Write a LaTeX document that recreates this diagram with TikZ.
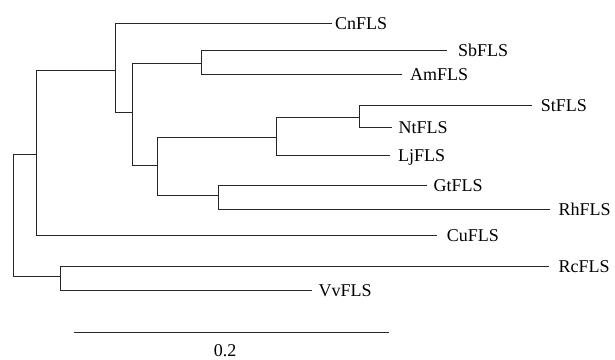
\documentclass[tikz,border=0pt]{standalone}
\usepackage{fontspec}
\setmainfont{Liberation Serif}
\begin{document}
\begin{tikzpicture}[x=1pt,y=-1pt,
  branch/.style={draw=black!85,line width=0.9pt},
  leaf/.style={anchor=base west,inner sep=0pt,font=\fontsize{18}{20}\selectfont},
  scalelbl/.style={anchor=base,inner sep=0pt,font=\fontsize{18}{20}\selectfont}]
\useasboundingbox (0,0) rectangle (615,359);
% internal nodes
\coordinate (r) at (13.3,215.5);
\coordinate (A) at (36.7,154.3);
\coordinate (B) at (115.7,70);
\coordinate (C) at (132.7,112.7);
\coordinate (D) at (201.7,63.3);
\coordinate (E) at (157.3,165);
\coordinate (F) at (276.7,137.7);
\coordinate (H) at (359.3,117.7);
\coordinate (G) at (218.7,195);
\coordinate (I) at (60.7,276.7);
% branch tips
\coordinate (tCn) at (331.7,23.3);
\coordinate (tSb) at (446.7,50.7);
\coordinate (tAm) at (401.7,74);
\coordinate (tSt) at (531.7,105);
\coordinate (tNt) at (391.7,127.7);
\coordinate (tLj) at (390,155);
\coordinate (tGt) at (426.7,185.7);
\coordinate (tRh) at (550,209);
\coordinate (tCu) at (436.7,235.7);
\coordinate (tRc) at (549.3,266.7);
\coordinate (tVv) at (311.7,290);
% labels
\node[leaf] (Cn) at (335,29.3) {CnFLS};
\node[leaf] (Sb) at (458,56.7) {SbFLS};
\node[leaf] (Am) at (410,80) {AmFLS};
\node[leaf] (St) at (540.7,111) {StFLS};
\node[leaf] (Nt) at (398.3,133.7) {NtFLS};
\node[leaf] (Lj) at (398,161) {LjFLS};
\node[leaf] (Gt) at (433.3,191.7) {GtFLS};
\node[leaf] (Rh) at (558.3,215) {RhFLS};
\node[leaf] (Cu) at (446.7,241.7) {CuFLS};
\node[leaf] (Rc) at (558.3,272.7) {RcFLS};
\node[leaf] (Vv) at (318.3,296) {VvFLS};
% tree
\draw[branch] (r) |- (A);
\draw[branch] (r) |- (I);
\draw[branch] (A) |- (B);
\draw[branch] (A) |- (tCu);
\draw[branch] (B) |- (tCn);
\draw[branch] (B) |- (C);
\draw[branch] (C) |- (D);
\draw[branch] (C) |- (E);
\draw[branch] (D) |- (tSb);
\draw[branch] (D) |- (tAm);
\draw[branch] (E) |- (F);
\draw[branch] (E) |- (G);
\draw[branch] (F) |- (H);
\draw[branch] (F) |- (tLj);
\draw[branch] (H) |- (tSt);
\draw[branch] (H) |- (tNt);
\draw[branch] (G) |- (tGt);
\draw[branch] (G) |- (tRh);
\draw[branch] (I) |- (tRc);
\draw[branch] (I) |- (tVv);
% scale bar
\coordinate (s1) at (74,332.3);
\coordinate (s2) at (389,332.3);
\draw[branch] (s1) -- (s2);
\node[scalelbl] (sl) at (225,356) {0.2};
\end{tikzpicture}
\end{document}
